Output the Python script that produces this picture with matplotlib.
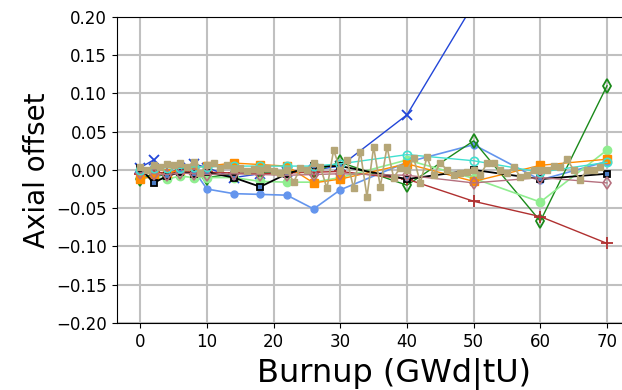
import matplotlib
matplotlib.use('Agg')
import matplotlib.pyplot as plt

burnup = [0, 2, 4, 6, 8, 10, 14, 18, 22, 26, 30, 40, 50, 60, 70]

ao_blue = [0.003, 0.013, -0.005, 0.002, 0.008, 0.003, -0.01, -0.005, -0.003, 0.0, 0.005, 0.072, 0.217]
ao_cblue = [-0.005, -0.01, -0.005, 0.0, 0.0, -0.025, -0.031, -0.032, -0.033, -0.051, -0.026, 0.01, 0.033, -0.013, 0.011]
ao_green = [-0.012, -0.005, -0.008, 0.0, -0.005, -0.01, -0.005, -0.003, -0.002, -0.002, 0.01, -0.02, 0.038, -0.067, 0.11]
ao_red = [-0.005, -0.003, -0.004, -0.002, -0.003, -0.003, -0.004, -0.005, -0.004, -0.003, -0.002, -0.012, -0.041, -0.061, -0.096]
ao_lgreen = [-0.01, -0.01, -0.012, -0.008, -0.01, -0.01, -0.01, -0.015, -0.016, -0.016, -0.01, 0.013, -0.011, -0.042, 0.026]
ao_orange = [-0.012, -0.008, -0.004, 0.0, 0.003, 0.005, 0.009, 0.007, 0.005, -0.017, -0.012, 0.008, -0.015, 0.006, 0.014]
ao_black = [0.003, -0.017, -0.008, -0.003, -0.005, -0.003, -0.01, -0.022, -0.005, 0.005, 0.005, -0.012, 0.0, -0.012, -0.005]
ao_rosy = [-0.004, -0.005, -0.006, -0.004, -0.005, -0.006, -0.005, -0.006, -0.007, -0.006, -0.005, -0.007, -0.017, -0.01, -0.017]
ao_turq = [0.0, 0.002, 0.003, 0.002, 0.004, 0.004, 0.005, 0.005, 0.005, 0.005, 0.008, 0.02, 0.012, -0.003, 0.01]

burnup_fine = list(range(0, 70))
ao_tan = [0.004, 0.0, 0.006, 0.004, 0.008, 0.006, 0.009, 0.004, 0.01, -0.004,
          0.006, 0.009, 0.002, 0.007, 0.001, 0.003, -0.002, 0.001, 0.0, 0.002,
          -0.001, -0.004, 0.0, -0.016, 0.002, 0.0, 0.009, 0.004, -0.024, 0.026,
          0.0, 0.013, -0.024, 0.024, -0.035, 0.03, -0.022, 0.03, -0.01, 0.003,
          0.0, 0.016, -0.017, 0.017, -0.007, 0.009, 0.0, -0.007, -0.004, -0.003,
          0.0, -0.007, 0.009, 0.009, 0.0, -0.004, 0.004, -0.009, -0.007, 0.0,
          0.0, 0.0, 0.005, 0.004, 0.014, 0.0, -0.013, 0.0, 0.0, 0.004]

fig = plt.figure(figsize=(6.22, 3.9), dpi=100)
ax = fig.add_axes([0.188, 0.172, 0.8254, 0.7846])

ax.plot(burnup[:len(ao_blue)], ao_blue, color='#2246d8', marker='x', ms=7, mew=1.3, lw=1)
ax.plot(burnup, ao_cblue, color='#6495ed', marker='o', ms=5, lw=1.2)
ax.plot(burnup, ao_green, color='#1a8a1a', marker='d', ms=7, mfc='none', mew=1.3, lw=1)
ax.plot(burnup, ao_red, color='#b03030', marker='+', ms=8, mew=1.3, lw=1)
ax.plot(burnup, ao_lgreen, color='#90ee90', marker='o', ms=6, lw=1.2)
ax.plot(burnup, ao_orange, color='#ff8c00', marker='s', ms=6, lw=1)
ax.plot(burnup, ao_black, color='black', marker='s', ms=5, mfc='#4a7cc4', mec='black', mew=1.3, lw=1.3)
ax.plot(burnup, ao_rosy, color='#b5707e', marker='d', ms=6, mfc='none', mew=1.2, lw=1)
ax.plot(burnup, ao_turq, color='#40e0d0', marker='o', ms=6, mfc='none', mew=1.2, lw=1)
ax.plot(burnup_fine, ao_tan, color='#b5a677', marker='s', ms=5, lw=1.2)

ax.set_xlim(-3.5, 73.5)
ax.set_ylim(-0.2, 0.2)
ax.set_xticks(range(0, 71, 10))
ax.set_yticks([-0.2, -0.15, -0.1, -0.05, 0.0, 0.05, 0.1, 0.15, 0.2])
ax.set_yticklabels([t.replace('-', '\u2212') for t in ['%.2f' % v for v in ax.get_yticks()]])
ax.tick_params(labelsize=12)
ax.grid(True, color='#c0c0c0', lw=1.5)
ax.set_axisbelow(True)
ax.set_xlabel('Burnup (GWd|tU)', fontsize=23)
ax.xaxis.set_label_coords(0.54, -0.115)
ax.set_ylabel('Axial offset', fontsize=20)

fig.savefig('out.png', dpi=100)
